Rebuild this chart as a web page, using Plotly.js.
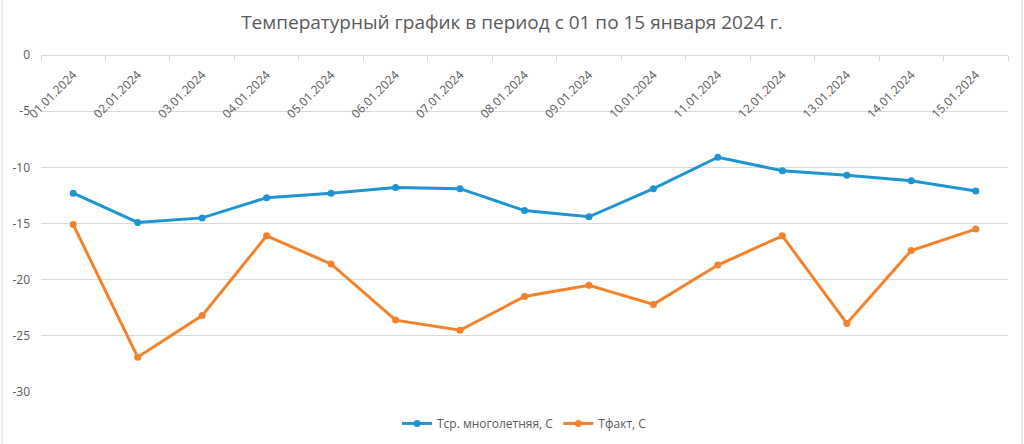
<!DOCTYPE html>
<html>
<head>
<meta charset="utf-8">
<script src="https://cdn.plot.ly/plotly-3.0.1.min.js"></script>
<style>html,body{margin:0;padding:0;background:#fff;}#chart{width:1024px;height:444px;}</style>
</head>
<body>
<div id="chart"></div>
<script>
const dates = ["01.01.2024","02.01.2024","03.01.2024","04.01.2024","05.01.2024","06.01.2024","07.01.2024","08.01.2024","09.01.2024","10.01.2024","11.01.2024","12.01.2024","13.01.2024","14.01.2024","15.01.2024"];
const tAvg = [-12.3,-14.9,-14.5,-12.7,-12.3,-11.8,-11.9,-13.85,-14.4,-11.9,-9.1,-10.3,-10.7,-11.2,-12.1];
const tFact = [-15.1,-26.9,-23.2,-16.1,-18.6,-23.6,-24.5,-21.5,-20.5,-22.2,-18.7,-16.1,-23.9,-17.4,-15.5];
const nameAvg = "Тср. многолетняя, С";
const nameFact = "Тфакт, С";
const yTicks = [0,-5,-10,-15,-20,-25,-30];
const yTickText = ["0","-5","-10","-15","-20","-25","-30"];

const font = "Open Sans, Liberation Sans, sans-serif";
const traces = [
  {x: dates, y: tAvg, name: nameAvg, type: "scatter", mode: "lines+markers",
   line: {color: "#1f94d2", width: 3}, marker: {color: "#1f94d2", size: 7}},
  {x: dates, y: tFact, name: nameFact, type: "scatter", mode: "lines+markers",
   line: {color: "#f5822a", width: 3}, marker: {color: "#f5822a", size: 7}}
];
const layout = {
  width: 1024, height: 444,
  margin: {l: 41, r: 16, t: 55, b: 52},
  paper_bgcolor: "#fff", plot_bgcolor: "#fff",
  title: {text: "Температурный график в период с 01 по 15 января 2024 г.",
          font: {family: font, size: 19, color: "#595959"}, x: 0.5, xanchor: "center", y: 0.95, yanchor: "middle"},
  xaxis: {type: "category", anchor: "free", position: 1, side: "bottom", tickangle: -45,
          tickson: "boundaries", ticks: "outside", ticklen: 5, tickcolor: "#d9d9d9", ticklabelstandoff: 7,
          showline: true, linecolor: "#d9d9d9", showgrid: false, zeroline: false, automargin: false,
          tickfont: {family: font, size: 12, color: "#595959"}, range: [-0.5, 14.5], fixedrange: true},
  yaxis: {range: [-30, 0], tickvals: yTicks, ticktext: yTickText, showgrid: true, gridcolor: "#d9d9d9", zeroline: false,
          showline: false, ticks: "", ticklabelstandoff: 10, automargin: false,
          tickfont: {family: font, size: 12, color: "#595959"}, fixedrange: true},
  showlegend: true,
  legend: {orientation: "h", x: 0.5, xanchor: "center", yref: "container", y: 0.079, yanchor: "top",
           font: {family: font, size: 12, color: "#595959"}},
  shapes: [
    {type: "line", xref: "paper", yref: "paper", x0: -0.0403, x1: -0.0403, y0: -0.3, y1: 1.3,
     line: {color: "#d9d9d9", width: 1}},
    {type: "line", xref: "paper", yref: "paper", x0: 1.0145, x1: 1.0145, y0: -0.3, y1: 1.3,
     line: {color: "#d9d9d9", width: 1}}
  ]
};
Plotly.newPlot("chart", traces, layout, {displayModeBar: false, staticPlot: true});
</script>
</body>
</html>
